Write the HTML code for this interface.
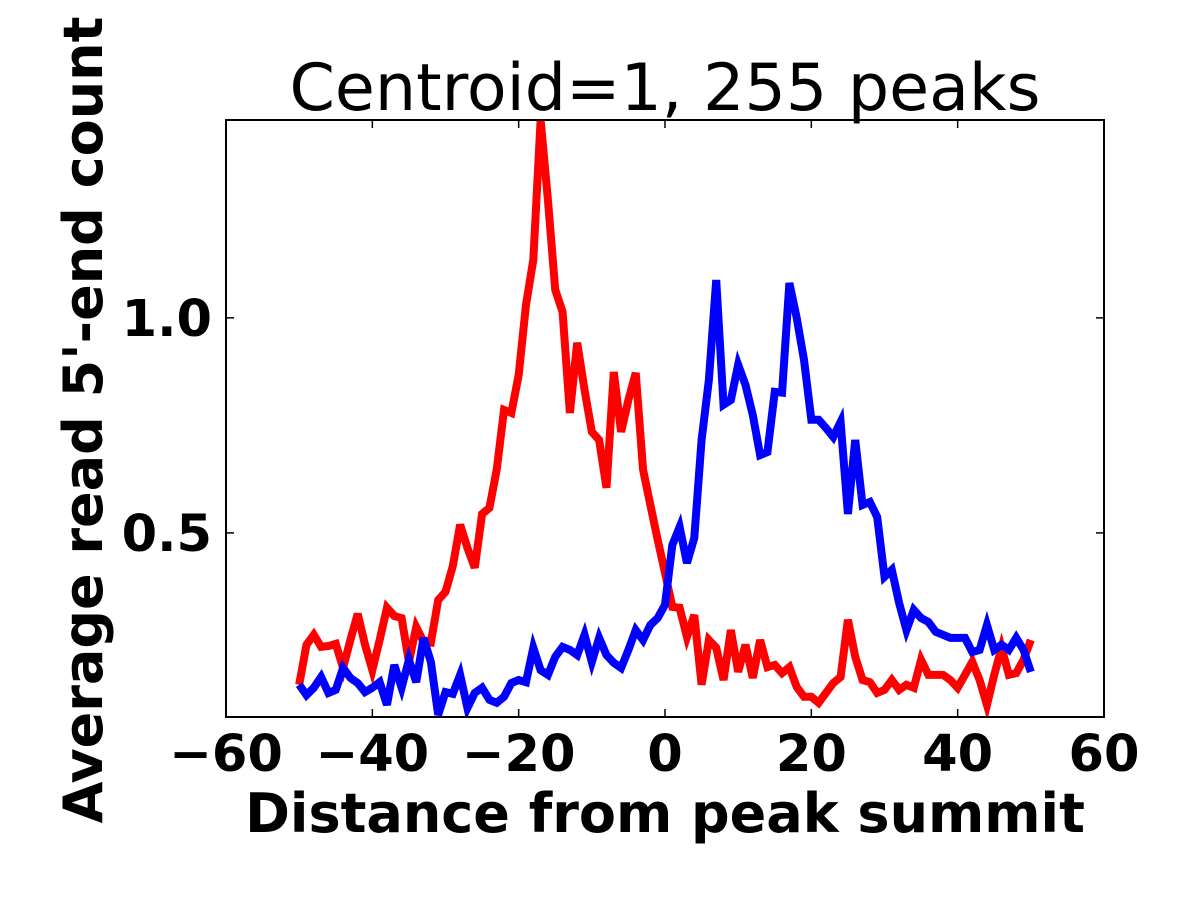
<!DOCTYPE html>
<html><head><meta charset="utf-8"><style>body{margin:0;background:#fff}svg{display:block}</style></head>
<body>
<svg id="chart" width="1200" height="900" xmlns="http://www.w3.org/2000/svg" font-family="'DejaVu Sans','Liberation Sans',sans-serif">
<defs><clipPath id="clip"><rect x="226" y="120" width="878" height="597"/></clipPath></defs>
<rect width="1200" height="900" fill="#fff"/>
<text x="665" y="110" text-anchor="middle" font-size="65">Centroid=1, 255 peaks</text>
<g id="series" clip-path="url(#clip)"></g>
<rect x="226" y="120" width="878" height="597" fill="none" stroke="#000" stroke-width="2"/>
<g id="ticks"></g>
<text x="665" y="832" text-anchor="middle" font-size="54" font-weight="bold">Distance from peak summit</text>
<text transform="translate(102,420) rotate(-90)" text-anchor="middle" font-size="54" font-weight="bold">Average read 5'-end count</text>
</svg>
<script>
const xTicks=[-60,-40,-20,0,20,40,60];
const yTicks=[0.5,1.0];
const yTickLabels=["0.5","1.0"];
const positions=[];for(let i=-50;i<=50;i++)positions.push(i);
const redValues=[0.147,0.240,0.263,0.235,0.237,0.242,0.186,0.251,0.312,0.240,0.181,0.251,0.326,0.307,0.302,0.200,0.281,0.247,0.245,0.344,0.363,0.423,0.519,0.465,0.419,0.544,0.558,0.647,0.786,0.779,0.867,1.030,1.135,1.460,1.274,1.065,1.014,0.779,0.942,0.833,0.735,0.716,0.605,0.874,0.735,0.809,0.872,0.647,0.565,0.484,0.407,0.328,0.326,0.258,0.309,0.147,0.251,0.233,0.158,0.274,0.177,0.240,0.163,0.251,0.188,0.193,0.174,0.188,0.142,0.119,0.119,0.105,0.128,0.151,0.165,0.298,0.212,0.158,0.153,0.128,0.135,0.158,0.135,0.147,0.140,0.205,0.170,0.170,0.170,0.158,0.140,0.170,0.200,0.158,0.100,0.170,0.233,0.170,0.174,0.205,0.251];
const blueValues=[0.147,0.123,0.140,0.165,0.128,0.135,0.186,0.163,0.151,0.130,0.140,0.153,0.100,0.193,0.140,0.205,0.153,0.256,0.200,0.077,0.130,0.126,0.170,0.093,0.128,0.140,0.112,0.105,0.119,0.151,0.158,0.153,0.233,0.181,0.170,0.212,0.235,0.228,0.216,0.263,0.200,0.256,0.216,0.198,0.186,0.228,0.274,0.251,0.286,0.302,0.333,0.472,0.514,0.430,0.488,0.716,0.856,1.088,0.798,0.809,0.891,0.844,0.774,0.681,0.688,0.828,0.826,1.081,1.000,0.902,0.763,0.763,0.744,0.723,0.758,0.544,0.716,0.565,0.572,0.537,0.398,0.414,0.337,0.274,0.321,0.302,0.293,0.270,0.263,0.256,0.256,0.256,0.223,0.228,0.286,0.228,0.240,0.228,0.256,0.228,0.177];
const NS="http://www.w3.org/2000/svg";
const X0=226,X1=1104,Y0=717,Y1=120,XMIN=-60,XMAX=60,YMIN=0.072,YMAX=1.46;
function sx(v){return X0+(v-XMIN)/(XMAX-XMIN)*(X1-X0);}
function sy(v){return Y0-(v-YMIN)/(YMAX-YMIN)*(Y0-Y1);}
const series=document.getElementById('series');
function drawLine(vals,color,name){
  const p=document.createElementNS(NS,'polyline');
  p.setAttribute('points',vals.map((v,i)=>sx(positions[i])+','+sy(v)).join(' '));
  p.setAttribute('fill','none');p.setAttribute('stroke',color);p.setAttribute('stroke-width','8');p.setAttribute('stroke-linejoin','miter');
  
  
  series.appendChild(p);
}
drawLine(redValues,'#ff0000','red-series-line');
drawLine(blueValues,'#0000ff','blue-series-line');
const tk=document.getElementById('ticks');
function line(x1,y1,x2,y2){const l=document.createElementNS(NS,'line');l.setAttribute('x1',x1);l.setAttribute('y1',y1);l.setAttribute('x2',x2);l.setAttribute('y2',y2);l.setAttribute('stroke','#000');l.setAttribute('stroke-width','1.5');tk.appendChild(l);return l;}
xTicks.forEach(t=>{
  const x=sx(t);
  const a=line(x,Y0,x,Y0-8);
  
  
  const b=line(x,Y1,x,Y1+8);
  
  
  const tx=document.createElementNS(NS,'text');
  tx.setAttribute('x',x);tx.setAttribute('y',Y0+54);tx.setAttribute('text-anchor','middle');tx.setAttribute('font-size','51');tx.setAttribute('font-weight','bold');
  tx.textContent=(t<0?'\u2212'+Math.abs(t):String(t));
  
  
  tk.appendChild(tx);
});
yTicks.forEach((t,i)=>{
  const y=sy(t);
  const a=line(X0,y,X0+8,y);
  
  
  const b=line(X1,y,X1-8,y);
  
  
  const tx=document.createElementNS(NS,'text');
  tx.setAttribute('x',X0-14);tx.setAttribute('y',y+18);tx.setAttribute('text-anchor','end');tx.setAttribute('font-size','51');tx.setAttribute('font-weight','bold');
  tx.textContent=yTickLabels[i];
  
  
  tk.appendChild(tx);
});
</script>
</body></html>
